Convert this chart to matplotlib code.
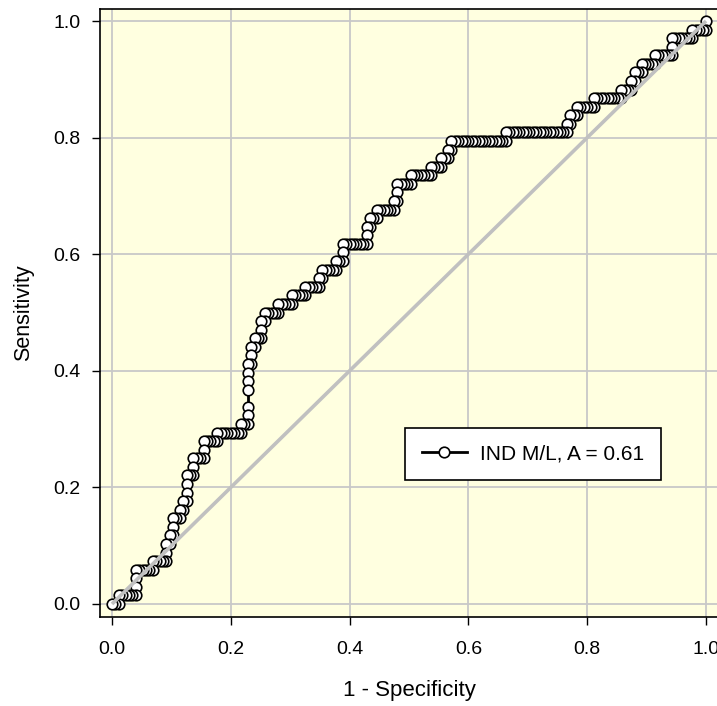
import matplotlib
matplotlib.use("Agg")
import matplotlib.pyplot as plt
import numpy as np

# ROC data (counts of false / true positives)
n_neg = 175
n_pos = 68
fp_counts = [
    0, 1, 2,
    2, 3, 4, 5, 6, 7,
    7,
    7,
    7, 8, 9, 10, 11, 12,
    12, 13, 14, 15, 16,
    16,
    16, 17,
    17, 18,
    18,
    18, 19, 20,
    20, 21,
    21, 22,
    22,
    22,
    22, 23, 24,
    24,
    24, 25, 26, 27,
    27,
    27, 28, 29, 30, 31,
    31, 32, 33, 34, 35, 36, 37, 38,
    38, 39, 40,
    40,
    40,
    40,
    40,
    40,
    40, 41,
    41,
    41, 42,
    42, 43, 44,
    44,
    44, 45,
    45, 46, 47, 48, 49,
    49, 50, 51, 52, 53,
    53, 54, 55, 56, 57,
    57, 58, 59, 60, 61,
    61, 62,
    62, 63, 64, 65, 66,
    66, 67, 68,
    68,
    68, 69, 70, 71, 72, 73, 74, 75,
    75,
    75, 76,
    76, 77, 78,
    78, 79, 80, 81, 82, 83,
    83, 84,
    84,
    84, 85, 86, 87, 88,
    88, 89, 90, 91, 92, 93, 94,
    94, 95, 96, 97,
    97, 98, 99,
    99, 100,
    100, 101, 102, 103, 104, 105, 106, 107, 108, 109, 110, 111, 112, 113, 114, 115, 116,
    116, 117, 118, 119, 120, 121, 122, 123, 124, 125, 126, 127, 128, 129, 130, 131, 132, 133, 134,
    134, 135,
    135, 136, 137,
    137, 138, 139, 140, 141, 142,
    142, 143, 144, 145, 146, 147, 148, 149, 150,
    150, 151, 152, 153,
    153, 154,
    154, 155, 156,
    156, 157, 158, 159, 160,
    160, 161, 162, 163, 164, 165,
    165,
    165, 166, 167, 168, 169, 170, 171,
    171, 172, 173, 174, 175,
    175,
]
tp_counts = [
    0, 0, 0,
    1, 1, 1, 1, 1, 1,
    2,
    3,
    4, 4, 4, 4, 4, 4,
    5, 5, 5, 5, 5,
    6,
    7, 7,
    8, 8,
    9,
    10, 10, 10,
    11, 11,
    12, 12,
    13,
    14,
    15, 15, 15,
    16,
    17, 17, 17, 17,
    18,
    19, 19, 19, 19, 19,
    20, 20, 20, 20, 20, 20, 20, 20,
    21, 21, 21,
    22,
    23,
    25,
    26,
    27,
    28, 28,
    29,
    30, 30,
    31, 31, 31,
    32,
    33, 33,
    34, 34, 34, 34, 34,
    35, 35, 35, 35, 35,
    36, 36, 36, 36, 36,
    37, 37, 37, 37, 37,
    38, 38,
    39, 39, 39, 39, 39,
    40, 40, 40,
    41,
    42, 42, 42, 42, 42, 42, 42, 42,
    43,
    44, 44,
    45, 45, 45,
    46, 46, 46, 46, 46, 46,
    47, 47,
    48,
    49, 49, 49, 49, 49,
    50, 50, 50, 50, 50, 50, 50,
    51, 51, 51, 51,
    52, 52, 52,
    53, 53,
    54, 54, 54, 54, 54, 54, 54, 54, 54, 54, 54, 54, 54, 54, 54, 54, 54,
    55, 55, 55, 55, 55, 55, 55, 55, 55, 55, 55, 55, 55, 55, 55, 55, 55, 55, 55,
    56, 56,
    57, 57, 57,
    58, 58, 58, 58, 58, 58,
    59, 59, 59, 59, 59, 59, 59, 59, 59,
    60, 60, 60, 60,
    61, 61,
    62, 62, 62,
    63, 63, 63, 63, 63,
    64, 64, 64, 64, 64, 64,
    65,
    66, 66, 66, 66, 66, 66, 66,
    67, 67, 67, 67, 67,
    68,
]
legend_label = "IND M/L, A = 0.61"
ticks = [0.0, 0.2, 0.4, 0.6, 0.8, 1.0]
tick_labels = ["0.0", "0.2", "0.4", "0.6", "0.8", "1.0"]

plt.rcParams['font.family'] = ['Liberation Sans', 'DejaVu Sans']

fpr = np.array(fp_counts) / n_neg
tpr = np.array(tp_counts) / n_pos

fig = plt.figure(figsize=(7.17, 7.06), dpi=100)
ax = fig.add_axes([100 / 717, 1 - 617 / 706, 618 / 717, 608 / 706])
ax.set_facecolor('#FFFFE0')
ax.set_xlim(-0.0202, 1.0202)
ax.set_ylim(-0.0223, 1.0206)

ax.grid(True, color='#C8C8C8', linewidth=1.3, zorder=0)
ax.set_axisbelow(True)

# reversed so that the lower-left points are drawn on top
ax.plot(fpr[::-1], tpr[::-1], color='black', linewidth=2.0, marker='o',
        markersize=7.6, markerfacecolor='white', markeredgecolor='black',
        markeredgewidth=1.2, zorder=3, label=legend_label)
ax.plot([0, 1], [0, 1], color='#C0C0C0', linewidth=2.6, zorder=4,
        solid_capstyle='butt')

ax.set_xticks(ticks)
ax.set_xticklabels(tick_labels)
ax.set_yticks(ticks)
ax.set_yticklabels(tick_labels)
ax.tick_params(axis='both', direction='out', length=6, width=1.0,
               labelsize=14, colors='black')
ax.tick_params(axis='x', pad=11)
ax.tick_params(axis='y', pad=8)

for s in ['left', 'bottom', 'top']:
    ax.spines[s].set_linewidth(1.2)
    ax.spines[s].set_color('black')
ax.spines['right'].set_visible(False)

ax.set_xlabel('1 - Specificity', fontsize=16, labelpad=16)
ax.set_ylabel('Sensitivity', fontsize=15.5, labelpad=14)

leg = ax.legend(loc='upper left', bbox_to_anchor=(0.493, 0.302),
                bbox_transform=ax.transData, borderaxespad=0,
                frameon=True, fancybox=False, edgecolor='black',
                facecolor='white', framealpha=1, fontsize=15,
                handlelength=2.2, borderpad=0.8, handletextpad=0.6,
                markerscale=1.0)
leg.get_frame().set_linewidth(1.2)
leg.set_zorder(10)

fig.savefig('out.png', dpi=100)
